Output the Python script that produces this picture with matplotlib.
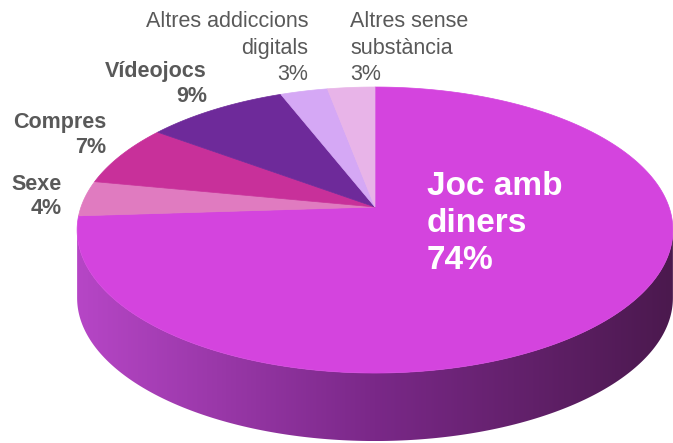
import numpy as np
import matplotlib.pyplot as plt
from matplotlib.patches import Polygon
from matplotlib.colors import LinearSegmentedColormap

# data
categories = ['Joc amb\ndiners', 'Sexe', 'Compres', 'Vídeojocs',
              'Altres addiccions\ndigitals', 'Altres sense\nsubstància']
values = [74, 4, 7, 9, 3, 3]
colors = ['#D444DE', '#E07BC0', '#C8309A', '#6E2A9A', '#D5A8F5', '#E8B4E8']
bold = [True, True, True, True, False, False]

# label layout (pixel coords): x, first baseline y, line step, alignment
label_pos = [(427, 195, 37, 'left'), (62, 190, 24, 'right'), (106, 128, 25, 'right'),
             (207, 77, 25, 'right'), (308, 27, 26.5, 'right'), (350, 27, 26.5, 'left')]

W, H = 673, 443
CX, CY = 375, 207      # pie centre as seen
RX, RY = 294, 139.3
A = 0.161              # perspective factor
DEPTH = 68


def project(theta):
    # theta measured clockwise from 12 o'clock
    u = np.sin(theta)
    v = np.cos(theta)
    w = 1 + A * v
    return CX + RX * u / w, CY - RY * v / w


def main():
    plt.rcParams['font.family'] = ['Liberation Sans', 'DejaVu Sans']
    fig = plt.figure(figsize=(W / 100, H / 100), dpi=100)
    ax = fig.add_axes([0, 0, 1, 1])
    ax.set_xlim(0, W)
    ax.set_ylim(H, 0)
    ax.axis('off')

    # side wall (only front part visible)
    t_r = np.arccos(-A)
    t_l = 2 * np.pi - np.arccos(-A)
    ts = np.linspace(t_r, t_l, 200)
    xs, ys = project(ts)
    side = np.vstack([np.column_stack([xs, ys]),
                      np.column_stack([xs[::-1], ys[::-1] + DEPTH])])
    poly = Polygon(side, closed=True, facecolor='none', edgecolor='none')
    ax.add_patch(poly)
    grad = np.linspace(0, 1, 256)[None, :]
    cmap = LinearSegmentedColormap.from_list('side', ['#B646C6', '#7A2888', '#4B194E'])
    im = ax.imshow(grad, cmap=cmap, aspect='auto',
                   extent=[xs.min(), xs.max(), ys.max() + DEPTH, ys.min()], zorder=1)
    im.set_clip_path(poly)

    # top face slices
    total = sum(values)
    start = 0.0
    for val, col in zip(values, colors):
        end = start + 2 * np.pi * val / total
        t = np.linspace(start, end, max(int(val * 6), 8))
        px, py = project(t)
        pts = np.vstack([[CX, CY], np.column_stack([px, py])])
        ax.add_patch(Polygon(pts, closed=True, facecolor=col, edgecolor=col,
                             linewidth=0.5, zorder=2))
        start = end

    # labels, one text per line
    for i, (name, val) in enumerate(zip(categories, values)):
        x, y0, step, ha = label_pos[i]
        lines = name.split('\n') + [f'{val}%']
        for j, line in enumerate(lines):
            if i == 0:
                ax.text(x, y0 + j * step, line, ha=ha, va='baseline', fontsize=24,
                        fontweight='bold', color='white', zorder=3)
            else:
                ax.text(x, y0 + j * step, line, ha=ha, va='baseline', fontsize=15.5,
                        fontweight='bold' if bold[i] else 'normal',
                        color='#595959', zorder=3)

    fig.savefig('out.png', dpi=100)


if __name__ == '__main__':
    main()
